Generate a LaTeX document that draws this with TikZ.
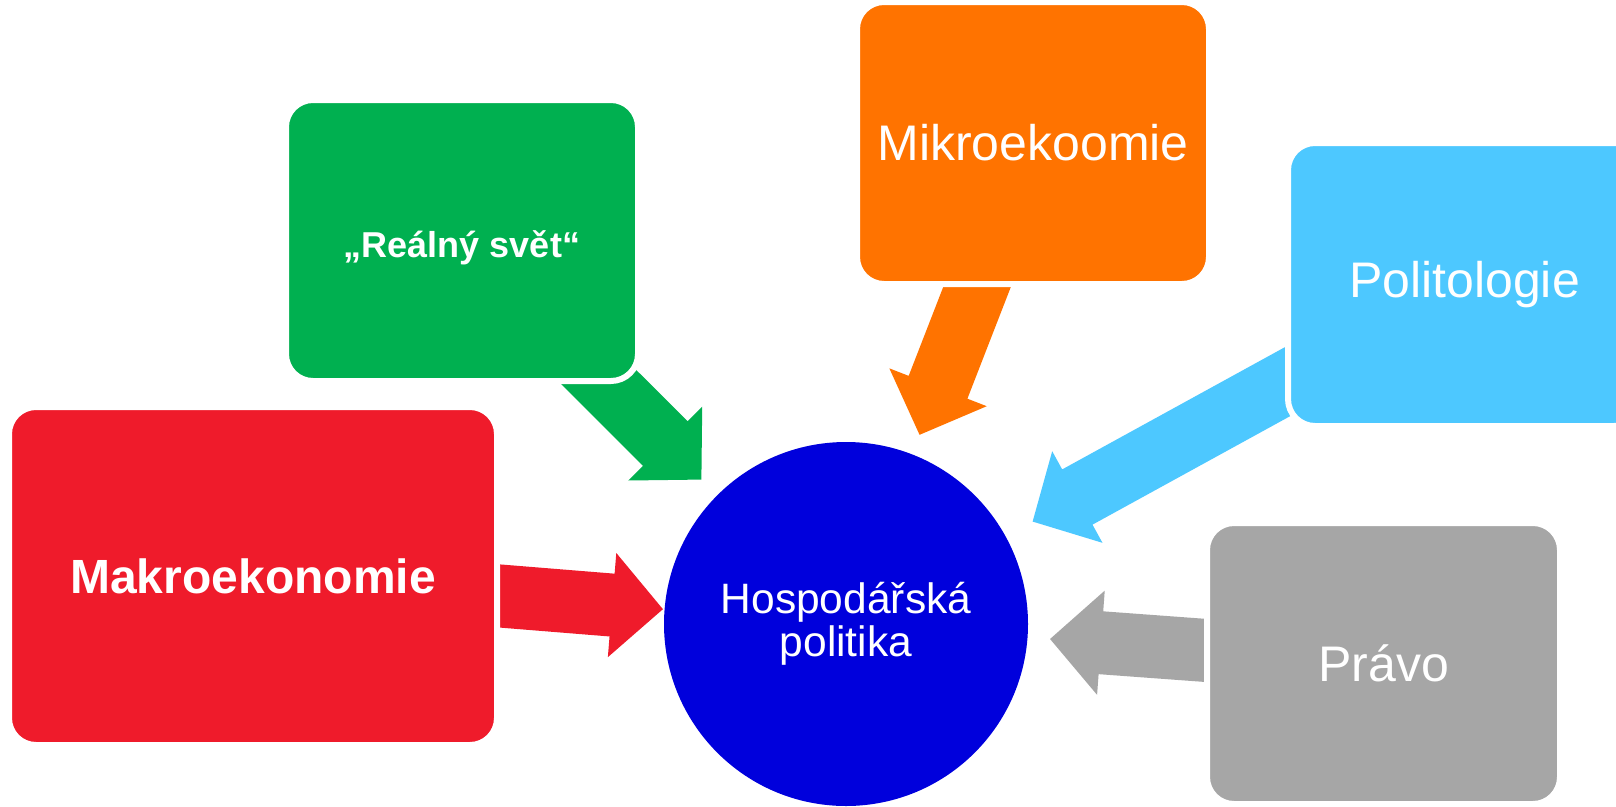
\documentclass[tikz,border=0pt]{standalone}
\usepackage{fontspec}
\setmainfont{Liberation Sans}
\usetikzlibrary{calc}
\pgfdeclarelayer{back}
\pgfdeclarelayer{arrows}
\pgfsetlayers{back,arrows,main}
\definecolor{cgreen}{RGB}{0,176,80}
\definecolor{corange}{RGB}{255,115,0}
\definecolor{cblue}{RGB}{77,200,255}
\definecolor{cred}{RGB}{239,27,43}
\definecolor{cgray}{RGB}{166,166,166}
\definecolor{chp}{RGB}{0,0,220}
% block arrow from the centre of node #2 towards node #3, tip #4 from the centre of #3
\newcommand\blockarrow[4]{%
  \coordinate (ba-A) at (#2.center);
  \coordinate (ba-B) at ($(#3.center)!#4!(#2.center)$);
  \coordinate (ba-H) at ($(ba-B)!51pt!(ba-A)$);
  \fill[#1] ($(ba-A)!31.5pt!90:(ba-B)$) -- ($(ba-H)!31.5pt!90:(ba-B)$)
    -- ($(ba-H)!52.25pt!90:(ba-B)$) -- (ba-B)
    -- ($(ba-H)!52.25pt!-90:(ba-B)$) -- ($(ba-H)!31.5pt!-90:(ba-B)$)
    -- ($(ba-A)!31.5pt!-90:(ba-B)$) -- cycle;
}
\begin{document}
\begin{tikzpicture}[x=1pt,y=-1pt,
  box/.style={rectangle, rounded corners=27pt, draw=white, line width=6pt,
    text=white, inner sep=0pt, align=center},
  regtext/.style={font=\fontsize{50}{56}\selectfont}]
\useasboundingbox (0,0) rectangle (1616,806);
\begin{pgfonlayer}{back}
  \fill[white] (0,0) rectangle (1616,806);
\end{pgfonlayer}

\node[box, fill=cgreen, minimum width=352pt, minimum height=281pt,
  text height=33pt, text depth=0pt,
  font=\bfseries\fontsize{36}{40}\selectfont] (rs) at (462,240.5) {„Reálný svět“};
\node[box, fill=corange, minimum width=352pt, minimum height=282pt, regtext]
  (mi) at (1033,143) {Mikroekoomie};
\node[box, fill=cblue, minimum width=353pt, minimum height=283pt, regtext]
  (po) at (1464.5,284.5) {Politologie};
\node[box, fill=cred, minimum width=488pt, minimum height=338pt,
  font=\bfseries\fontsize{48}{54}\selectfont] (ma) at (253,576) {Makroekonomie};
\node[box, fill=cgray, minimum width=353pt, minimum height=281pt, regtext]
  (pr) at (1383.5,663.5) {Právo};
\node[circle, fill=chp, minimum size=364pt, inner sep=0pt, text=white, align=center,
  font=\fontsize{42.5}{43.5}\selectfont] (hp) at (846,624) {Hospodářská\\politika};

\begin{pgfonlayer}{arrows}
  \blockarrow{cgreen}{rs}{hp}{204.4pt}
  \blockarrow{corange}{mi}{hp}{203pt}
  \blockarrow{cblue}{po}{hp}{212.9pt}
  \blockarrow{cred}{ma}{hp}{183.7pt}
  \blockarrow{cgray}{pr}{hp}{204.6pt}
\end{pgfonlayer}
\end{tikzpicture}
\end{document}
